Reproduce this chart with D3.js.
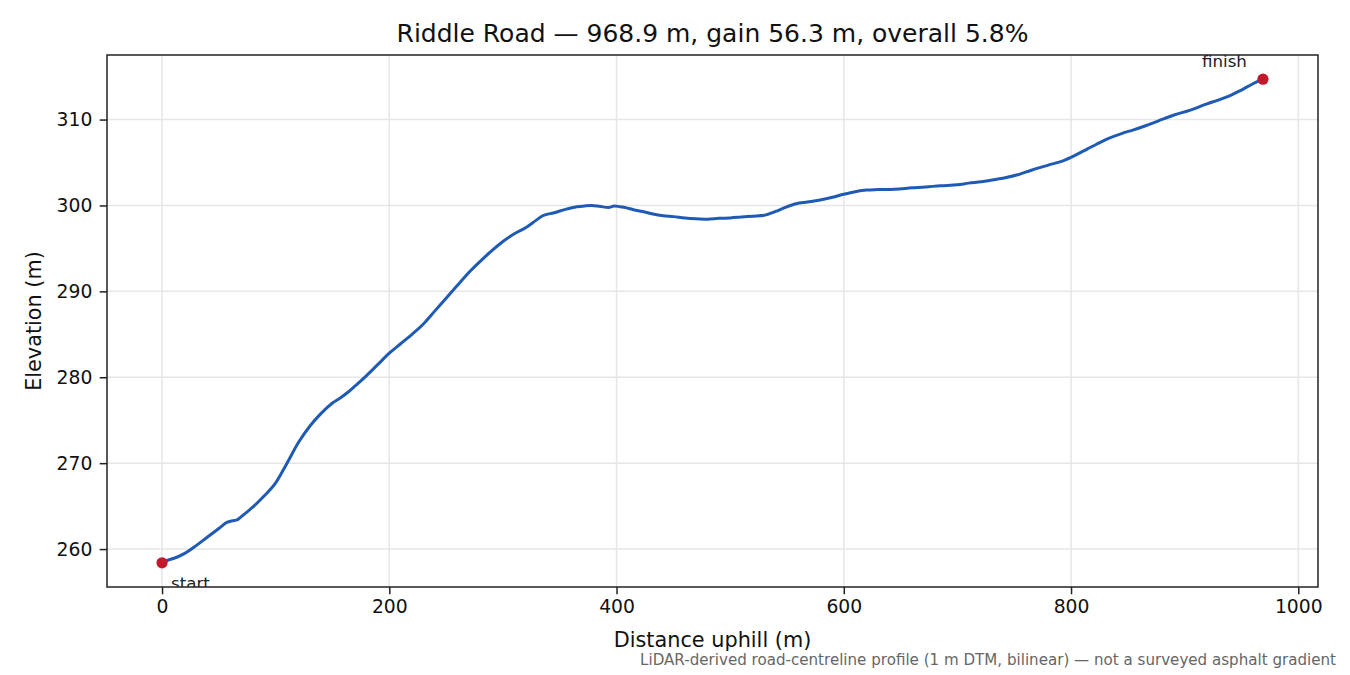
<!DOCTYPE html>
<html><head><meta charset="utf-8">
<script src="https://cdn.jsdelivr.net/npm/d3@7"></script>
<style>
html,body{margin:0;padding:0;background:#fff;}
svg{display:block;font-family:"DejaVu Sans",sans-serif;}
</style></head>
<body>
<svg id="chart" width="1350" height="675"></svg>
<script>
const titleText = "Riddle Road — 968.9 m, gain 56.3 m, overall 5.8%";
const xLabel = "Distance uphill (m)";
const yLabel = "Elevation (m)";
const footnote = "LiDAR-derived road-centreline profile (1 m DTM, bilinear) — not a surveyed asphalt gradient";
const xTicks = [0, 200, 400, 600, 800, 1000];
const yTicks = [260, 270, 280, 290, 300, 310];

const distance = [0,5,10,20,30,40,50,57,62,66,70,80,90,100,110,120,130,140,150,158,163,170,180,190,200,210,220,230,240,250,260,270,280,290,300,310,320,330,335,345,355,365,372,378,385,393,398,403,408,415,423,432,441,450,460,470,480,490,500,510,520,530,540,548,558,568,578,590,600,610,620,630,645,660,672,685,700,710,721,732,743,755,765,780,793,803,811,822,832,845,855,865,877,890,905,919,930,940,948,955,962,968.9];
const elevation = [258.4,258.7,258.9,259.5,260.4,261.4,262.4,263.1,263.3,263.4,263.8,264.9,266.2,267.7,270.0,272.4,274.3,275.8,277.0,277.7,278.2,279.0,280.2,281.5,282.8,283.9,285.0,286.2,287.7,289.2,290.7,292.2,293.5,294.7,295.8,296.7,297.4,298.35,298.8,299.15,299.55,299.85,299.95,300.0,299.9,299.75,299.95,299.85,299.75,299.5,299.3,299.0,298.8,298.7,298.55,298.45,298.4,298.5,298.55,298.65,298.75,298.85,299.3,299.75,300.2,300.4,300.6,300.95,301.3,301.6,301.8,301.85,301.9,302.05,302.15,302.3,302.4,302.6,302.75,303.0,303.25,303.65,304.1,304.7,305.2,305.8,306.35,307.1,307.75,308.4,308.8,309.25,309.85,310.5,311.1,311.8,312.3,312.8,313.3,313.8,314.3,314.7];
const endpoints = [
  {label: "start", d: 0, e: 258.4},
  {label: "finish", d: 968.9, e: 314.7}
];

const svg = d3.select("#chart");
const L = 107, R = 1318, T = 55, B = 587;

const dMin = d3.min(distance), dMax = d3.max(distance);
const eMin = d3.min(elevation), eMax = d3.max(elevation);
const dPad = (dMax - dMin) * 0.05, ePad = (eMax - eMin) * 0.05;
const x = d3.scaleLinear().domain([dMin - dPad, dMax + dPad]).range([L, R]);
const y = d3.scaleLinear().domain([eMin - ePad, eMax + ePad]).range([B, T]);

svg.append("defs").append("clipPath").attr("id", "clip")
  .append("rect").attr("x", L).attr("y", T).attr("width", R - L).attr("height", B - T);

// grid
const grid = svg.append("g");
grid.selectAll(".gx").data(xTicks).join("line")
  .attr("x1", d => x(d)).attr("x2", d => x(d)).attr("y1", T).attr("y2", B)
  .attr("stroke", "#e6e6e6").attr("stroke-width", 1.5);
grid.selectAll(".gy").data(yTicks).join("line")
  .attr("y1", d => y(d)).attr("y2", d => y(d)).attr("x1", L).attr("x2", R)
  .attr("stroke", "#e6e6e6").attr("stroke-width", 1.5);

// line
const pts = distance.map((d, i) => [d, elevation[i]]);
const line = d3.line().x(d => x(d[0])).y(d => y(d[1])).curve(d3.curveMonotoneX);
const plot = svg.append("g").attr("clip-path", "url(#clip)");
plot.append("path").datum(pts).attr("d", line)
  .attr("fill", "none").attr("stroke", "#1f5bb4").attr("stroke-width", 3)
  .attr("stroke-linejoin", "round").attr("stroke-linecap", "round");

plot.selectAll("circle").data(endpoints).join("circle")
  .attr("cx", d => x(d.d)).attr("cy", d => y(d.e)).attr("r", 5.6)
  .attr("fill", "#c21a2a");

plot.selectAll("text.ann").data(endpoints).join("text")
  .attr("class", "ann")
  .attr("x", d => d.label === "start" ? x(d.d) + 9 : x(d.d) - 16)
  .attr("y", d => d.label === "start" ? y(d.e) + 26 : y(d.e) - 12.5)
  .attr("text-anchor", d => d.label === "start" ? "start" : "end")
  .attr("font-size", 16.7).attr("fill", "#222")
  .text(d => d.label);

// axes
const xAxis = svg.append("g").attr("transform", `translate(0,${B})`)
  .call(d3.axisBottom(x).tickValues(xTicks).tickFormat(d3.format("d")).tickSize(7.3).tickPadding(5));
const yAxis = svg.append("g").attr("transform", `translate(${L},0)`)
  .call(d3.axisLeft(y).tickValues(yTicks).tickFormat(d3.format("d")).tickSize(7.3).tickPadding(7.3));
[xAxis, yAxis].forEach(a => {
  a.select(".domain").remove();
  a.selectAll(".tick line").attr("stroke", "#222").attr("stroke-width", 1.5);
  a.selectAll(".tick text").attr("font-size", 18.75).attr("fill", "#111")
    .attr("font-family", "DejaVu Sans");
});

// spines
svg.append("rect").attr("x", L).attr("y", T).attr("width", R - L).attr("height", B - T)
  .attr("fill", "none").attr("stroke", "#222").attr("stroke-width", 1.5);

// labels
svg.append("text").attr("x", (L + R) / 2).attr("y", 42).attr("text-anchor", "middle")
  .attr("font-size", 25).attr("fill", "#111").text(titleText);
svg.append("text").attr("x", (L + R) / 2).attr("y", 647).attr("text-anchor", "middle")
  .attr("font-size", 20.8).attr("fill", "#111").text(xLabel);
svg.append("text").attr("transform", `translate(41,${(T + B) / 2}) rotate(-90)`)
  .attr("text-anchor", "middle").attr("font-size", 20.8).attr("fill", "#111").text(yLabel);
svg.append("text").attr("x", 1336).attr("y", 665).attr("text-anchor", "end")
  .attr("font-size", 15.1).attr("fill", "#666").text(footnote);
</script>
</body></html>
